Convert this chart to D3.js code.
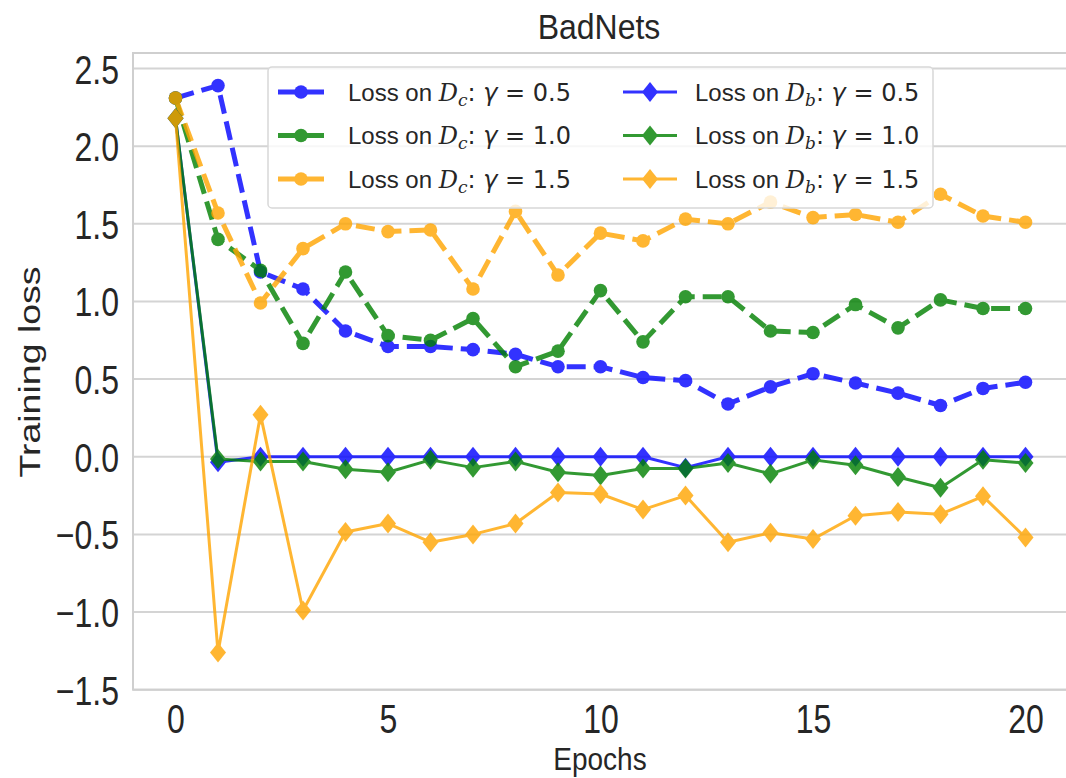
<!DOCTYPE html>
<html>
<head>
<meta charset="utf-8">
<script src="https://cdn.jsdelivr.net/npm/d3@7/dist/d3.min.js"></script>
<style>
  html, body { margin: 0; padding: 0; background: #fff; }
  svg { display: block; }
</style>
</head>
<body>
<div id="chart"></div>
<script>
// epochs on the x axis
const epochs = [0, 1, 2, 3, 4, 5, 6, 7, 8, 9, 10, 11, 12, 13, 14, 15, 16, 17, 18, 19, 20];

// loss on D_c (clean data), dashed + circles
const lossDcG05 = [2.31, 2.39, 1.19, 1.08, 0.81, 0.71, 0.71, 0.69, 0.66, 0.58, 0.58, 0.51, 0.49, 0.34, 0.45, 0.535, 0.475, 0.41, 0.33, 0.44, 0.48];
const lossDcG10 = [2.31, 1.40, 1.20, 0.73, 1.19, 0.78, 0.75, 0.89, 0.58, 0.68, 1.07, 0.74, 1.03, 1.03, 0.81, 0.80, 0.98, 0.83, 1.01, 0.955, 0.955];
const lossDcG15 = [2.31, 1.57, 0.99, 1.34, 1.50, 1.45, 1.46, 1.08, 1.58, 1.17, 1.44, 1.39, 1.53, 1.50, 1.64, 1.54, 1.56, 1.51, 1.69, 1.55, 1.51];

// loss on D_b (backdoor data), solid + diamonds
const lossDbG05 = [2.18, -0.035, 0, 0, 0, 0, 0, 0, 0, 0, 0, 0, -0.07, 0, 0, 0, 0, 0, 0, 0, 0];
const lossDbG10 = [2.18, -0.015, -0.03, -0.03, -0.08, -0.10, -0.02, -0.07, -0.03, -0.10, -0.12, -0.075, -0.075, -0.04, -0.11, -0.02, -0.055, -0.13, -0.20, -0.02, -0.04];
const lossDbG15 = [2.18, -1.26, 0.27, -0.99, -0.485, -0.43, -0.55, -0.50, -0.43, -0.23, -0.24, -0.34, -0.25, -0.55, -0.49, -0.53, -0.38, -0.355, -0.37, -0.255, -0.52];

const gammas = ['0.5', '1.0', '1.5'];
const xTicks = [0, 5, 10, 15, 20];
const yTicks = [-1.5, -1.0, -0.5, 0.0, 0.5, 1.0, 1.5, 2.0, 2.5];

const colors = ['blue', 'green', 'orange'];

// plotting order: all D_c first, then all D_b (legend fills column by column)
const series = [
  { set: 'c', gamma: gammas[0], values: lossDcG05, color: colors[0] },
  { set: 'c', gamma: gammas[1], values: lossDcG10, color: colors[1] },
  { set: 'c', gamma: gammas[2], values: lossDcG15, color: colors[2] },
  { set: 'b', gamma: gammas[0], values: lossDbG05, color: colors[0] },
  { set: 'b', gamma: gammas[1], values: lossDbG10, color: colors[1] },
  { set: 'b', gamma: gammas[2], values: lossDbG15, color: colors[2] }
];

const width = 1066, height = 778;
const SY = 1.2; // the source figure is stretched vertically
const font = 'Liberation Sans, Arial, Helvetica, sans-serif';
const ink = '#262626';
const gridColor = '#d4d4d4';

const plot = { left: 133, right: 1068, top: 53, bottom: 689.7 };

const x = d3.scaleLinear().domain([-1, 21]).range([plot.left, plot.right]);
const y = d3.scaleLinear().domain([-1.5, 2.6]).range([plot.bottom, plot.top]);

const svg = d3.select('#chart').append('svg')
  .attr('width', width)
  .attr('height', height)
  .style('font-family', font);

// grid lines (horizontal only)
svg.append('g').selectAll('line')
  .data(yTicks)
  .enter().append('line')
  .attr('x1', plot.left).attr('x2', plot.right)
  .attr('y1', d => y(d)).attr('y2', d => y(d))
  .attr('stroke', gridColor)
  .attr('stroke-width', 2);

// frame
svg.append('rect')
  .attr('x', plot.left).attr('y', plot.top)
  .attr('width', plot.right - plot.left)
  .attr('height', plot.bottom - plot.top)
  .attr('fill', 'none')
  .attr('stroke', '#cfcfcf')
  .attr('stroke-width', 2);

// axes
const yAxis = svg.append('g')
  .attr('transform', `translate(${plot.left},0)`)
  .call(d3.axisLeft(y).tickValues(yTicks).tickSize(0).tickFormat(d => d3.format('.1f')(d).replace('-', '\u2212')));
yAxis.select('.domain').remove();
yAxis.selectAll('text')
  .attr('x', 0).attr('y', 0).attr('dy', 0)
  .attr('transform', `translate(-14,14.5) scale(1,1.25)`)
  .style('font-family', font)
  .style('font-size', '32px')
  .attr('fill', ink);

const xAxis = svg.append('g')
  .attr('transform', `translate(0,${plot.bottom})`)
  .call(d3.axisBottom(x).tickValues(xTicks).tickSize(0));
xAxis.select('.domain').remove();
xAxis.selectAll('text')
  .attr('x', 0).attr('y', 0).attr('dy', 0)
  .attr('transform', `translate(0,43.3) scale(1,1.25)`)
  .style('font-family', font)
  .style('font-size', '32px')
  .attr('fill', ink);

// titles
svg.append('text')
  .attr('transform', `translate(599,39) scale(1,1.1)`)
  .attr('text-anchor', 'middle')
  .style('font-size', '32px')
  .attr('fill', ink)
  .text('BadNets');

svg.append('text')
  .attr('transform', `translate(600,770) scale(1,1.15)`)
  .attr('text-anchor', 'middle')
  .style('font-size', '28px')
  .attr('fill', ink)
  .text('Epochs');

svg.append('text')
  .attr('transform', `translate(40,372) rotate(-90) scale(1.25,1)`)
  .attr('text-anchor', 'middle')
  .style('font-size', '30px')
  .attr('fill', ink)
  .text('Training loss');

// series
const line = d3.line()
  .x((d, i) => x(epochs[i]))
  .y(d => y(d));

const diamond = r => `M0,${-r}L${r * 0.8},0L0,${r}L${-r * 0.8},0Z`;

function drawMarker(sel, s) {
  if (s.set === 'c') {
    sel.append('circle').attr('r', 6.8);
  } else {
    sel.append('path').attr('d', diamond(10));
  }
}

series.forEach(s => {
  const g = svg.append('g').attr('opacity', 0.8);
  g.append('path')
    .datum(s.values)
    .attr('d', line)
    .attr('fill', 'none')
    .attr('stroke', s.color)
    .attr('stroke-width', s.set === 'c' ? 5 : 3)
    .attr('stroke-linejoin', 'round')
    .attr('stroke-dasharray', s.set === 'c' ? '19,8' : null);
  g.selectAll('.m')
    .data(s.values)
    .enter().append('g')
    .attr('transform', (d, i) => `translate(${x(epochs[i])},${y(d)})`)
    .each(function () { drawMarker(d3.select(this), s); })
    .attr('fill', s.color);
});

// legend
const legend = svg.append('g');
legend.append('rect')
  .attr('x', 268).attr('y', 67)
  .attr('width', 665).attr('height', 141)
  .attr('rx', 4)
  .attr('fill', 'white').attr('fill-opacity', 0.8)
  .attr('stroke', '#d8d8d8').attr('stroke-width', 1.5);

const rowY = [92, 135.5, 179];
const colX = [{ a: 278, b: 324, t: 348 }, { a: 623, b: 677, t: 695 }];

series.forEach((s, k) => {
  const col = colX[s.set === 'c' ? 0 : 1];
  const ry = rowY[k % 3];
  const g = legend.append('g').attr('opacity', 0.8);
  g.append('line')
    .attr('x1', col.a).attr('x2', col.b)
    .attr('y1', ry).attr('y2', ry)
    .attr('stroke', s.color)
    .attr('stroke-width', s.set === 'c' ? 5 : 3);
  const m = g.append('g')
    .attr('transform', `translate(${(col.a + col.b) / 2},${ry})`)
    .attr('fill', s.color);
  drawMarker(m, s);

  const t = legend.append('text')
    .attr('transform', `translate(${col.t},${ry + 8.5})`)
    .style('font-size', '24px')
    .attr('fill', ink);
  t.append('tspan').text('Loss on ');
  t.append('tspan').style('font-family', 'DejaVu Serif').style('font-style', 'italic').text('D');
  t.append('tspan').style('font-family', 'DejaVu Serif').style('font-style', 'italic')
    .style('font-size', '17px').attr('dy', 5).text(s.set);
  t.append('tspan').attr('dy', -5).style('font-family', 'DejaVu Sans').text(': ');
  t.append('tspan').style('font-family', 'DejaVu Sans').style('font-style', 'italic').text('\u03b3');
  t.append('tspan').style('font-family', 'DejaVu Sans').text(' = ' + s.gamma);
});
</script>
</body>
</html>
